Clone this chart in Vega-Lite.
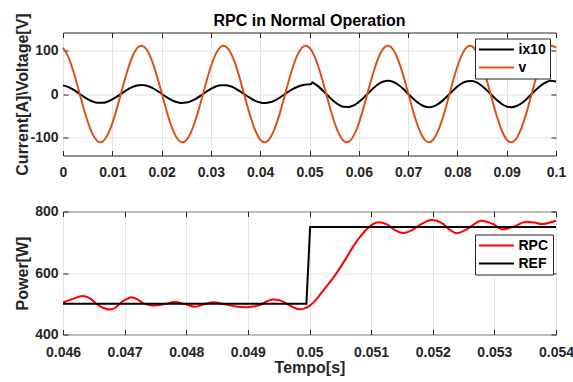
{
  "$schema": "https://vega.github.io/schema/vega-lite/v6.json",
  "background": "white",
  "padding": {"left": 13, "top": 11.5, "right": 0, "bottom": 0},
  "datasets": {
    "ix10": [
      {"t":0,"y":19.6},{"t":0.001,"y":16.1},{"t":0.002,"y":10.3},{"t":0.003,"y":3.1},{"t":0.004,"y":-4.6},{"t":0.005,"y":-11.7},{"t":0.006,"y":-17.0},{"t":0.007,"y":-20.0},{"t":0.008,"y":-20.2},{"t":0.009,"y":-17.6},
      {"t":0.010,"y":-12.4},{"t":0.011,"y":-5.6},{"t":0.012,"y":2.1},{"t":0.013,"y":9.4},{"t":0.014,"y":15.5},{"t":0.015,"y":19.3},{"t":0.016,"y":20.5},{"t":0.017,"y":18.8},{"t":0.018,"y":14.4},{"t":0.019,"y":8.0},
      {"t":0.020,"y":0.5},{"t":0.021,"y":-7.1},{"t":0.022,"y":-13.7},{"t":0.023,"y":-18.3},{"t":0.024,"y":-20.4},{"t":0.025,"y":-19.6},{"t":0.026,"y":-16.1},{"t":0.027,"y":-10.3},{"t":0.028,"y":-3.1},{"t":0.029,"y":4.6},
      {"t":0.030,"y":11.7},{"t":0.031,"y":17.0},{"t":0.032,"y":20.0},{"t":0.033,"y":20.2},{"t":0.034,"y":17.6},{"t":0.035,"y":12.4},{"t":0.036,"y":5.6},{"t":0.037,"y":-2.1},{"t":0.038,"y":-9.4},{"t":0.039,"y":-15.5},
      {"t":0.040,"y":-19.3},{"t":0.041,"y":-20.5},{"t":0.042,"y":-18.8},{"t":0.043,"y":-14.4},{"t":0.044,"y":-8.0},{"t":0.045,"y":-0.5},{"t":0.046,"y":7.1},{"t":0.047,"y":13.7},{"t":0.048,"y":18.3},{"t":0.0485,"y":20.0},
      {"t":0.049,"y":21.0},{"t":0.0495,"y":21.5},{"t":0.050,"y":22.0},{"t":0.0503,"y":22.5},{"t":0.0506,"y":26.5},{"t":0.051,"y":23.6},{"t":0.052,"y":15.1},{"t":0.053,"y":4.5},{"t":0.054,"y":-6.8},{"t":0.055,"y":-17.0},
      {"t":0.056,"y":-24.9},{"t":0.057,"y":-29.3},{"t":0.058,"y":-29.6},{"t":0.059,"y":-25.7},{"t":0.060,"y":-18.2},{"t":0.061,"y":-8.2},{"t":0.062,"y":3.0},{"t":0.063,"y":13.8},{"t":0.064,"y":22.7},{"t":0.065,"y":28.3},
      {"t":0.066,"y":30.0},{"t":0.067,"y":27.4},{"t":0.068,"y":21.1},{"t":0.069,"y":11.7},{"t":0.070,"y":0.7},{"t":0.071,"y":-10.4},{"t":0.072,"y":-20.0},{"t":0.073,"y":-26.8},{"t":0.074,"y":-29.9},{"t":0.075,"y":-28.7},
      {"t":0.076,"y":-23.6},{"t":0.077,"y":-15.1},{"t":0.078,"y":-4.5},{"t":0.079,"y":6.8},{"t":0.080,"y":17.0},{"t":0.081,"y":24.9},{"t":0.082,"y":29.3},{"t":0.083,"y":29.6},{"t":0.084,"y":25.7},{"t":0.085,"y":18.2},
      {"t":0.086,"y":8.2},{"t":0.087,"y":-3.0},{"t":0.088,"y":-13.8},{"t":0.089,"y":-22.7},{"t":0.090,"y":-28.3},{"t":0.091,"y":-30.0},{"t":0.092,"y":-27.4},{"t":0.093,"y":-21.1},{"t":0.094,"y":-11.7},{"t":0.095,"y":-0.7},
      {"t":0.096,"y":10.4},{"t":0.097,"y":20.0},{"t":0.098,"y":26.8},{"t":0.099,"y":29.9},{"t":0.100,"y":28.7}
    ],
    "v": [
      {"t":0,"y":105.4},{"t":0.001,"y":86.4},{"t":0.002,"y":55.3},{"t":0.003,"y":16.4},{"t":0.004,"y":-24.8},{"t":0.005,"y":-62.5},{"t":0.006,"y":-91.4},{"t":0.007,"y":-107.5},{"t":0.008,"y":-108.5},{"t":0.009,"y":-94.2},
      {"t":0.010,"y":-66.8},{"t":0.011,"y":-29.9},{"t":0.012,"y":11.2},{"t":0.013,"y":50.7},{"t":0.014,"y":83.1},{"t":0.015,"y":103.8},{"t":0.016,"y":109.9},{"t":0.017,"y":100.6},{"t":0.018,"y":77.2},{"t":0.019,"y":42.9},
      {"t":0.020,"y":2.6},{"t":0.021,"y":-38.0},{"t":0.022,"y":-73.4},{"t":0.023,"y":-98.4},{"t":0.024,"y":-109.6},{"t":0.025,"y":-105.4},{"t":0.026,"y":-86.4},{"t":0.027,"y":-55.3},{"t":0.028,"y":-16.4},{"t":0.029,"y":24.8},
      {"t":0.030,"y":62.5},{"t":0.031,"y":91.4},{"t":0.032,"y":107.5},{"t":0.033,"y":108.5},{"t":0.034,"y":94.2},{"t":0.035,"y":66.8},{"t":0.036,"y":29.9},{"t":0.037,"y":-11.2},{"t":0.038,"y":-50.7},{"t":0.039,"y":-83.1},
      {"t":0.040,"y":-103.8},{"t":0.041,"y":-109.9},{"t":0.042,"y":-100.6},{"t":0.043,"y":-77.2},{"t":0.044,"y":-42.9},{"t":0.045,"y":-2.6},{"t":0.046,"y":38.0},{"t":0.047,"y":73.4},{"t":0.048,"y":98.4},{"t":0.049,"y":109.6},
      {"t":0.050,"y":105.4},{"t":0.051,"y":86.4},{"t":0.052,"y":55.3},{"t":0.053,"y":16.4},{"t":0.054,"y":-24.8},{"t":0.055,"y":-62.5},{"t":0.056,"y":-91.4},{"t":0.057,"y":-107.5},{"t":0.058,"y":-108.5},{"t":0.059,"y":-94.2},
      {"t":0.060,"y":-66.8},{"t":0.061,"y":-29.9},{"t":0.062,"y":11.2},{"t":0.063,"y":50.7},{"t":0.064,"y":83.1},{"t":0.065,"y":103.8},{"t":0.066,"y":109.9},{"t":0.067,"y":100.6},{"t":0.068,"y":77.2},{"t":0.069,"y":42.9},
      {"t":0.070,"y":2.6},{"t":0.071,"y":-38.0},{"t":0.072,"y":-73.4},{"t":0.073,"y":-98.4},{"t":0.074,"y":-109.6},{"t":0.075,"y":-105.4},{"t":0.076,"y":-86.4},{"t":0.077,"y":-55.3},{"t":0.078,"y":-16.4},{"t":0.079,"y":24.8},
      {"t":0.080,"y":62.5},{"t":0.081,"y":91.4},{"t":0.082,"y":107.5},{"t":0.083,"y":108.5},{"t":0.084,"y":94.2},{"t":0.085,"y":66.8},{"t":0.086,"y":29.9},{"t":0.087,"y":-11.2},{"t":0.088,"y":-50.7},{"t":0.089,"y":-83.1},
      {"t":0.090,"y":-103.8},{"t":0.091,"y":-109.9},{"t":0.092,"y":-100.6},{"t":0.093,"y":-77.2},{"t":0.094,"y":-42.9},{"t":0.095,"y":-2.6},{"t":0.096,"y":38.0},{"t":0.097,"y":73.4},{"t":0.098,"y":98.4},{"t":0.099,"y":109.6},
      {"t":0.100,"y":105.4}
    ],
    "rpc": [
      {"t":0.046,"p":504},{"t":0.04616,"p":516},{"t":0.04632,"p":525},{"t":0.04645,"p":516},{"t":0.04654,"p":500},{"t":0.04665,"p":487},{"t":0.04676,"p":481},{"t":0.04685,"p":487},{"t":0.04692,"p":500},{"t":0.04702,"p":514},
      {"t":0.04711,"p":521},{"t":0.0472,"p":515},{"t":0.0473,"p":502},{"t":0.0474,"p":496},{"t":0.04749,"p":494},{"t":0.04765,"p":499},{"t":0.04781,"p":506},{"t":0.04798,"p":499},{"t":0.04814,"p":490},{"t":0.04829,"p":498},
      {"t":0.04844,"p":505},{"t":0.0486,"p":499},{"t":0.04878,"p":492},{"t":0.04898,"p":489},{"t":0.04919,"p":496},{"t":0.04931,"p":508},{"t":0.04941,"p":514},{"t":0.04952,"p":511},{"t":0.04963,"p":500},{"t":0.04974,"p":488},
      {"t":0.04984,"p":482},{"t":0.04992,"p":485},{"t":0.05,"p":493},{"t":0.0501,"p":512},{"t":0.0502,"p":537},{"t":0.05033,"p":570},{"t":0.05045,"p":603},{"t":0.0506,"p":650},{"t":0.05072,"p":690},{"t":0.05085,"p":725},
      {"t":0.051,"p":755},{"t":0.05112,"p":765},{"t":0.05125,"p":759},{"t":0.0514,"p":738},{"t":0.05152,"p":730},{"t":0.05165,"p":738},{"t":0.0518,"p":757},{"t":0.05198,"p":772},{"t":0.05215,"p":762},{"t":0.05228,"p":740},
      {"t":0.05239,"p":729},{"t":0.05255,"p":742},{"t":0.05279,"p":770},{"t":0.05297,"p":760},{"t":0.05314,"p":742},{"t":0.05333,"p":752},{"t":0.05352,"p":767},{"t":0.05365,"p":764},{"t":0.05377,"p":759},{"t":0.0539,"p":764},
      {"t":0.054,"p":770}
    ],
    "ref": [
      {"t":0.046,"p":500},{"t":0.04995,"p":500},{"t":0.05001,"p":750},{"t":0.054,"p":750}
    ]
  },
  "config": {
    "font": "Liberation Sans",
    "view": {"stroke": "#262626", "strokeWidth": 1},
    "axis": {
      "domain": false,
      "grid": true,
      "gridColor": "#e3e3e3",
      "gridWidth": 1,
      "tickColor": "#262626",
      "tickSize": -5,
      "tickWidth": 1,
      "labelFlush": false,
      "labelOverlap": false,
      "labelFont": "Liberation Sans",
      "labelFontSize": 14,
      "labelFontWeight": "bold",
      "labelColor": "#262626",
      "labelExpr": "toString(datum.value)",
      "titleFont": "Liberation Sans",
      "titleFontSize": 16,
      "titleFontWeight": "bold",
      "titleColor": "#262626"
    },
    "legend": {
      "title": null,
      "orient": "none",
      "strokeColor": "#262626",
      "fillColor": "white",
      "padding": 4,
      "cornerRadius": 0,
      "symbolType": "M-3.5,0H3.5",
      "symbolSize": 100,
      "symbolStrokeWidth": 2,
      "symbolOffset": 10.5,
      "labelOffset": 15,
      "rowPadding": 4,
      "labelFont": "Liberation Sans",
      "labelFontSize": 14,
      "labelFontWeight": "bold",
      "labelColor": "#000000"
    },
    "title": {
      "font": "Liberation Sans",
      "fontSize": 16,
      "fontWeight": "bold",
      "color": "#000000",
      "anchor": "middle",
      "frame": "group",
      "baseline": "alphabetic",
      "offset": -16
    }
  },
  "spacing": 56,
  "bounds": "flush",
  "resolve": {
    "scale": {"x": "independent", "y": "independent", "color": "independent"},
    "axis": {"x": "independent", "y": "independent"},
    "legend": {"color": "independent"}
  },
  "vconcat": [
    {
      "width": 493,
      "height": 123,
      "title": {"text": "RPC in Normal Operation", "frame": "group", "offset": -16},
      "layer": [
        {
          "data": {"name": "ix10"},
          "mark": {"type": "line", "interpolate": "monotone", "strokeWidth": 2},
          "encoding": {
            "x": {"field": "t", "type": "quantitative",
                  "scale": {"domain": [0, 0.1], "nice": false, "zero": false},
                  "axis": {"orient": "bottom", "values": [0, 0.01, 0.02, 0.03, 0.04, 0.05, 0.06, 0.07, 0.08, 0.09, 0.1], "title": null, "labelPadding": 15}},
            "y": {"field": "y", "type": "quantitative",
                  "scale": {"domain": [-140, 140], "nice": false},
                  "axis": {"orient": "left", "values": [-100, 0, 100], "title": "Current[A]\\Voltage[V]", "labelPadding": 10,
                           "titleX": -36, "titleY": 61.5, "titleBaseline": "alphabetic", "titleAlign": "center", "titleAngle": 270}},
            "color": {"datum": "ix10", "type": "nominal",
                      "scale": {"domain": ["ix10", "v"], "range": ["#000000", "#D95319"]},
                      "legend": {"orient": "none", "legendX": 412, "legendY": 6}}
          }
        },
        {
          "data": {"name": "v"},
          "mark": {"type": "line", "interpolate": "natural", "strokeWidth": 2},
          "encoding": {
            "x": {"field": "t", "type": "quantitative",
                  "axis": {"orient": "top", "values": [0, 0.01, 0.02, 0.03, 0.04, 0.05, 0.06, 0.07, 0.08, 0.09, 0.1], "title": null, "labels": false, "grid": false}},
            "y": {"field": "y", "type": "quantitative",
                  "axis": {"orient": "right", "values": [-100, 0, 100], "title": null, "labels": false, "grid": false}},
            "color": {"datum": "v", "type": "nominal"}
          }
        }
      ],
      "resolve": {"axis": {"x": "independent", "y": "independent"}}
    },
    {
      "width": 493,
      "height": 123,
      "layer": [
        {
          "data": {"name": "rpc"},
          "mark": {"type": "line", "interpolate": "monotone", "strokeWidth": 2},
          "encoding": {
            "x": {"field": "t", "type": "quantitative",
                  "scale": {"domain": [0.046, 0.054], "nice": false, "zero": false},
                  "axis": {"orient": "bottom", "values": [0.046, 0.047, 0.048, 0.049, 0.05, 0.051, 0.052, 0.053, 0.054], "title": "Tempo[s]", "labelPadding": 16,
                           "titleY": 38, "titleBaseline": "alphabetic"}},
            "y": {"field": "p", "type": "quantitative",
                  "scale": {"domain": [400, 800], "nice": false, "zero": false},
                  "axis": {"orient": "left", "values": [400, 600, 800], "title": "Power[W]", "labelPadding": 10,
                           "titleX": -36, "titleY": 61.5, "titleBaseline": "alphabetic", "titleAlign": "center", "titleAngle": 270}},
            "color": {"datum": "RPC", "type": "nominal",
                      "scale": {"domain": ["RPC", "REF"], "range": ["#FF0000", "#000000"]},
                      "legend": {"orient": "none", "legendX": 412, "legendY": 23}}
          }
        },
        {
          "data": {"name": "ref"},
          "mark": {"type": "line", "interpolate": "linear", "strokeWidth": 2},
          "encoding": {
            "x": {"field": "t", "type": "quantitative",
                  "axis": {"orient": "top", "values": [0.046, 0.047, 0.048, 0.049, 0.05, 0.051, 0.052, 0.053, 0.054], "title": null, "labels": false, "grid": false}},
            "y": {"field": "p", "type": "quantitative",
                  "axis": {"orient": "right", "values": [400, 600, 800], "title": null, "labels": false, "grid": false}},
            "color": {"datum": "REF", "type": "nominal"}
          }
        }
      ],
      "resolve": {"axis": {"x": "independent", "y": "independent"}}
    }
  ]
}
